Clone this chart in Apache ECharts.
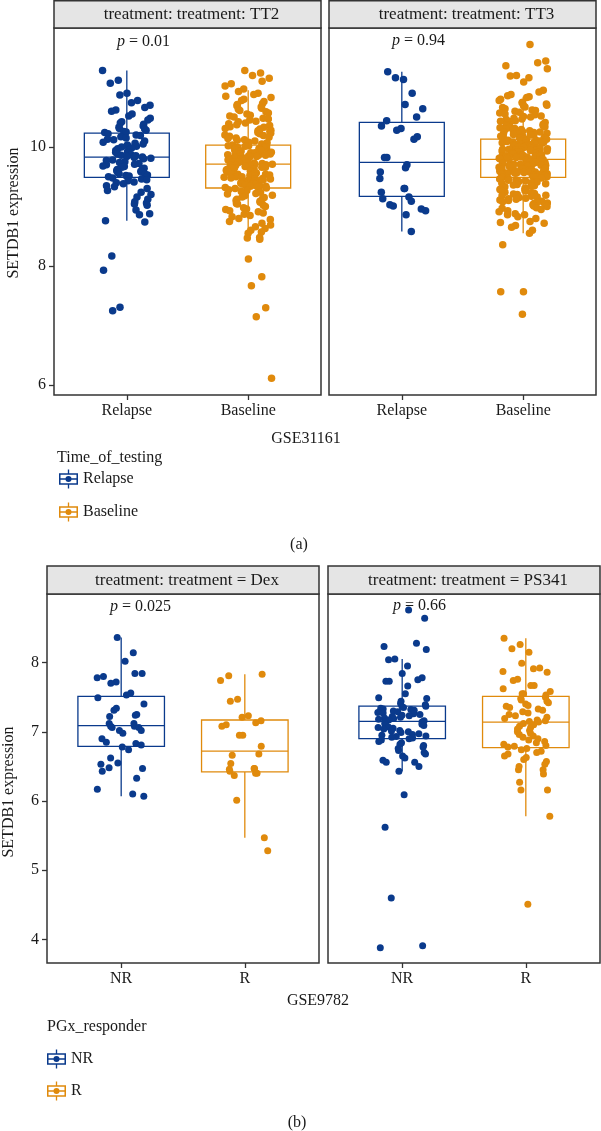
<!DOCTYPE html>
<html><head><meta charset="utf-8">
<script src="https://cdn.jsdelivr.net/npm/echarts@6/dist/echarts.min.js"></script>
<style>html,body{margin:0;padding:0;background:#fff}#c{width:601px;height:1131px}</style>
</head><body><div id="c"></div>
<script>
// ---------------- DATA ----------------
const catsA = ['Relapse', 'Baseline'];
const catsB = ['NR', 'R'];
const stripsA = ['treatment: treatment: TT2', 'treatment: treatment: TT3'];
const stripsB = ['treatment: treatment = Dex', 'treatment: treatment = PS341'];
const pA = ['0.01', '0.94'];
const pB = ['0.025', '0.66'];
const ticksA = [6, 8, 10];
const ticksB = [4, 5, 6, 7, 8];

// box stats: [lower whisker, Q1, median, Q3, upper whisker]
const boxTT2Relapse = [8.76, 9.49, 9.83, 10.23, 11.28];
const boxTT2Baseline = [8.55, 9.31, 9.71, 10.03, 10.95];
const boxTT3Relapse = [8.58, 9.17, 9.74, 10.41, 11.26];
const boxTT3Baseline = [8.55, 9.49, 9.79, 10.13, 10.84];
const boxDexNR = [6.07, 6.79, 7.09, 7.51, 8.36];
const boxDexR = [5.47, 6.42, 6.72, 7.17, 7.83];
const boxPSNR = [6.43, 6.90, 7.15, 7.37, 8.05];
const boxPSR = [5.78, 6.77, 7.14, 7.51, 8.35];

const ptsTT2Relapse = [11.28,11.12,11.07,10.90,10.87,10.78,10.74,10.70,10.66,10.62,10.60,10.55,10.52,10.48,10.45,10.42,10.40,10.38,10.35,10.33,10.31,10.30,10.28,10.26,10.25,10.24,
10.22,10.20,10.19,10.17,10.15,10.13,10.12,10.10,10.08,10.06,10.05,10.03,10.01,10.00,9.98,9.97,9.95,9.94,9.92,9.91,9.90,9.88,9.87,9.86,9.85,9.84,9.83,
9.82,9.81,9.80,9.78,9.77,9.75,9.74,9.72,9.71,9.70,9.68,9.67,9.66,9.64,9.63,9.62,9.60,9.59,9.58,9.57,9.55,9.54,9.53,9.52,9.51,9.50,
9.48,9.46,9.45,9.43,9.41,9.40,9.38,9.35,9.33,9.30,9.27,9.24,9.20,9.16,9.12,9.08,9.06,9.04,9.02,8.94,8.88,8.86,8.76,8.74,8.17,7.93,7.31,7.25];

const ptsTT2Baseline = [11.28,11.24,11.20,11.15,11.10,11.06,11.02,10.97,10.93,10.90,10.88,10.85,10.83,10.80,10.78,10.76,10.73,10.71,10.69,10.67,10.65,10.63,10.61,10.59,10.57,10.55,10.53,10.52,10.50,10.48,10.47,10.45,10.43,10.42,10.40,10.39,10.37,10.36,10.34,10.33,10.31,10.30,10.28,10.27,10.26,10.24,10.23,10.22,10.20,10.19,10.18,10.16,10.15,10.14,10.12,10.11,10.10,10.08,10.07,10.05,
10.03,10.02,10.02,10.01,10.00,9.99,9.99,9.98,9.97,9.97,9.96,9.95,9.95,9.94,9.93,9.93,9.92,9.91,9.90,9.90,9.89,9.88,9.88,9.87,9.86,9.86,9.85,9.84,9.84,9.83,9.82,9.81,9.81,9.80,9.79,9.79,9.78,9.77,9.77,9.76,9.75,9.75,9.74,9.73,9.73,9.72,9.71,9.71,
9.70,9.69,9.69,9.68,9.67,9.66,9.66,9.65,9.64,9.63,9.62,9.62,9.61,9.60,9.59,9.58,9.58,9.57,9.56,9.55,9.54,9.54,9.53,9.52,9.51,9.50,9.50,9.49,9.48,9.47,9.46,9.46,9.45,9.44,9.43,9.42,9.42,9.41,9.40,9.39,9.38,9.38,9.37,9.36,9.35,9.34,9.34,9.33,9.32,9.31,
9.30,9.28,9.27,9.25,9.24,9.22,9.21,9.19,9.18,9.16,9.15,9.13,9.12,9.10,9.09,9.07,9.05,9.04,9.02,9.00,8.98,8.96,8.95,8.93,8.91,8.89,8.87,8.85,8.83,8.80,8.78,8.75,8.72,8.69,8.66,8.63,8.60,8.57,8.55,8.48,8.47,8.45,8.12,7.82,7.67,7.30,7.15,6.12];

const ptsTT3Relapse = [11.26,11.13,11.16,10.90,10.71,10.64,10.50,10.44,10.35,10.31,10.28,10.17,10.13,9.82,9.82,9.70,9.65,9.58,9.47,9.30,9.30,9.24,9.13,9.16,9.09,9.03,9.01,8.96,8.93,8.86,8.58];

const ptsTT3Baseline = [11.72,11.44,11.41,11.36,11.31,11.20,11.19,11.16,11.09,
10.95,10.92,10.88,10.86,10.84,10.83,10.80,10.78,10.75,10.74,10.72,10.70,10.69,10.67,10.66,10.64,10.62,10.61,10.60,10.58,10.57,10.55,10.54,10.52,10.51,10.50,10.48,10.47,10.46,10.44,10.43,10.42,10.41,10.40,10.38,10.37,10.36,10.35,10.34,10.33,10.32,10.31,10.30,10.29,10.28,10.27,10.26,10.25,10.24,10.24,10.23,10.22,10.21,10.20,10.20,10.19,10.18,10.17,10.17,10.16,10.15,10.15,10.14,10.14,10.13,10.13,
10.12,10.12,10.11,10.11,10.10,10.10,10.09,10.09,10.08,10.08,10.07,10.07,10.06,10.06,10.05,10.05,10.04,10.04,10.03,10.03,10.02,10.02,10.01,10.01,10.00,10.00,9.99,9.99,9.98,9.98,9.97,9.97,9.96,9.96,9.95,9.95,9.94,9.94,9.93,9.93,9.92,9.92,9.91,9.91,9.90,9.90,9.89,9.89,9.88,9.88,9.87,9.87,9.86,9.86,9.85,9.85,9.84,9.84,9.83,9.83,9.82,9.82,9.81,9.81,9.80,9.80,9.79,9.79,
9.79,9.78,9.78,9.77,9.77,9.76,9.76,9.75,9.75,9.74,9.74,9.73,9.73,9.72,9.72,9.71,9.71,9.70,9.70,9.69,9.69,9.68,9.68,9.67,9.67,9.66,9.66,9.65,9.65,9.64,9.64,9.63,9.63,9.62,9.62,9.61,9.61,9.60,9.60,9.59,9.59,9.58,9.58,9.57,9.57,9.56,9.56,9.55,9.55,9.54,9.54,9.53,9.53,9.52,9.52,9.51,9.51,9.50,9.50,9.49,9.49,
9.48,9.47,9.46,9.45,9.44,9.43,9.42,9.41,9.40,9.39,9.38,9.37,9.36,9.35,9.34,9.33,9.32,9.31,9.30,9.29,9.28,9.27,9.26,9.25,9.24,9.23,9.22,9.21,9.20,9.19,9.18,9.17,9.16,9.15,9.14,9.13,9.12,9.11,9.10,9.09,9.08,9.07,9.06,9.05,9.04,9.03,9.02,9.01,9.00,8.98,8.97,8.95,8.93,8.91,8.88,8.86,8.86,8.83,8.80,8.75,8.73,8.72,8.68,8.65,8.60,8.55,8.36,7.57,7.57,7.19];

const ptsDexNR = [8.36,8.14,8.02,7.84,7.84,7.80,7.78,7.72,7.70,7.56,7.53,7.49,7.40,7.34,7.31,7.25,7.24,7.22,7.12,7.12,7.08,7.08,7.06,7.06,7.02,7.02,6.98,6.90,6.85,6.83,6.81,6.78,6.74,6.62,6.55,6.53,6.48,6.47,6.43,6.33,6.17,6.10,6.07];
const ptsDexR = [7.83,7.81,7.74,7.47,7.44,7.23,7.21,7.16,7.13,7.10,7.08,6.95,6.95,6.79,6.68,6.66,6.54,6.47,6.47,6.46,6.43,6.40,6.40,6.37,6.01,5.47,5.28];
const ptsPSNR = [8.76,8.64,8.28,8.23,8.19,8.05,8.04,7.95,7.84,7.78,7.75,7.73,7.73,7.66,7.55,7.49,7.48,7.44,7.41,7.39,
7.37,7.36,7.35,7.34,7.33,7.32,7.31,7.30,7.29,7.28,7.27,7.26,7.25,7.24,7.23,7.22,7.21,7.20,7.19,7.18,7.17,7.16,
7.15,7.14,7.12,7.11,7.10,7.09,7.07,7.06,7.05,7.04,7.02,7.01,7.00,6.99,6.97,6.96,6.95,6.94,6.93,6.92,6.91,
6.90,6.88,6.86,6.84,6.82,6.80,6.78,6.76,6.73,6.70,6.68,6.65,6.62,6.59,6.56,6.56,6.50,6.43,6.09,5.62,4.60,3.91,3.88];
const ptsPSR = [8.35,8.26,8.20,8.15,7.99,7.92,7.91,7.87,7.86,7.76,7.74,7.67,7.67,7.62,7.58,7.55,7.55,7.53,
7.50,7.48,7.46,7.44,7.42,7.40,7.38,7.37,7.35,7.33,7.31,7.29,7.27,7.25,7.23,7.21,7.19,7.17,7.16,7.15,
7.14,7.12,7.10,7.08,7.06,7.04,7.02,7.00,6.98,6.96,6.94,6.92,6.90,6.88,6.86,6.84,6.82,6.80,6.79,6.78,
6.76,6.74,6.72,6.70,6.68,6.65,6.63,6.60,6.57,6.53,6.50,6.45,6.45,6.39,6.27,6.16,6.16,5.78,4.51];

// ---------------- STYLE / LAYOUT ----------------
const FONT = '"Liberation Serif","DejaVu Serif",serif';
const TXT = '#1a1a1a';
const BLUE = '#0A3A8C', ORANGE = '#E08A0C';
const LINE = '#333333';
const RANGE_A = [5.837, 11.995], RANGE_B = [3.66, 8.99];
const GRIDS = [
  {left: 54, top: 28, width: 267, height: 367},
  {left: 329, top: 28, width: 267, height: 367},
  {left: 47, top: 594, width: 272, height: 369},
  {left: 328, top: 594, width: 272, height: 369}
];
const ICON = 'path://M0 4H20V16H0Z M1.6 5.6V14.4H18.4V5.6Z M1.6 9.3H18.4V10.7H1.6Z M9.3 0H10.7V4H9.3Z M9.3 16H10.7V20H9.3Z M6.8 10A3.2 3.2 0 1 1 13.2 10A3.2 3.2 0 1 1 6.8 10Z';

// deterministic horizontal jitter (quadratic Weyl sequence), width +-0.2 category units
function jit(i, off) { return (((i * i * 0.7548776662 + i * 0.5698402910 + off) % 1) - 0.5) * 0.4; }

function boxRender(color) {
  return function (params, api) {
    const x = api.value(0);
    const lo = api.coord([x, api.value(1)]), q1 = api.coord([x, api.value(2)]),
          md = api.coord([x, api.value(3)]), q3 = api.coord([x, api.value(4)]),
          hi = api.coord([x, api.value(5)]);
    const hw = api.size([0.7, 0])[0] / 2;
    const st = {stroke: color, lineWidth: 1.3};
    return {type: 'group', children: [
      {type: 'line', shape: {x1: hi[0], y1: hi[1], x2: q3[0], y2: q3[1]}, style: st},
      {type: 'line', shape: {x1: q1[0], y1: q1[1], x2: lo[0], y2: lo[1]}, style: st},
      {type: 'rect', shape: {x: q3[0] - hw, y: q3[1], width: 2 * hw, height: q1[1] - q3[1]}, style: {stroke: color, lineWidth: 1.3, fill: '#fff'}},
      {type: 'line', shape: {x1: md[0] - hw, y1: md[1], x2: md[0] + hw, y2: md[1]}, style: st}
    ]};
  };
}

const panels = [
  {cats: catsA, boxes: [boxTT2Relapse, boxTT2Baseline], pts: [ptsTT2Relapse, ptsTT2Baseline], range: RANGE_A, ticks: ticksA, showY: true, size: 7.5},
  {cats: catsA, boxes: [boxTT3Relapse, boxTT3Baseline], pts: [ptsTT3Relapse, ptsTT3Baseline], range: RANGE_A, ticks: ticksA, showY: false, size: 7.5},
  {cats: catsB, boxes: [boxDexNR, boxDexR], pts: [ptsDexNR, ptsDexR], range: RANGE_B, ticks: ticksB, showY: true, size: 7},
  {cats: catsB, boxes: [boxPSNR, boxPSR], pts: [ptsPSNR, ptsPSR], range: RANGE_B, ticks: ticksB, showY: false, size: 7}
];
const colors = [BLUE, ORANGE];

const grid = [], xAxis = [], yAxis = [], series = [];
panels.forEach((p, gi) => {
  grid.push(Object.assign({show: true, borderColor: LINE, borderWidth: 1.5, backgroundColor: 'transparent', containLabel: false}, GRIDS[gi]));
  xAxis.push({
    type: 'value', gridIndex: gi, min: 0.4, max: 2.6,
    axisLine: {show: false}, splitLine: {show: false},
    axisTick: {show: true, customValues: [1, 2], length: 5, lineStyle: {color: LINE, width: 1.3}},
    axisLabel: {show: true, customValues: [1, 2], margin: 8, formatter: v => p.cats[Math.round(v) - 1],
      fontFamily: FONT, fontSize: 16, color: TXT}
  });
  yAxis.push({
    type: 'value', gridIndex: gi, min: p.range[0], max: p.range[1],
    axisLine: {show: false}, splitLine: {show: false},
    axisTick: {show: p.showY, customValues: p.ticks, length: 5, lineStyle: {color: LINE, width: 1.3}},
    axisLabel: {show: p.showY, customValues: p.ticks, margin: 8, fontFamily: FONT, fontSize: 16, color: TXT}
  });
  [0, 1].forEach(k => {
    series.push({
      type: 'custom', name: p.cats[k], xAxisIndex: gi, yAxisIndex: gi, z: 2,
      renderItem: boxRender(colors[k]),
      encode: {x: 0, y: [1, 2, 3, 4, 5]},
      data: [[k + 1].concat(p.boxes[k])],
      itemStyle: {color: colors[k]}, silent: true
    });
  });
  [0, 1].forEach(k => {
    series.push({
      type: 'scatter', name: p.cats[k], xAxisIndex: gi, yAxisIndex: gi, z: 3,
      symbol: 'circle', symbolSize: p.size,
      itemStyle: {color: colors[k], opacity: 1},
      data: p.pts[k].map((v, i) => [k + 1 + jit(i, gi * 0.21 + k * 0.43), v]),
      silent: true
    });
  });
});

function txt(x, y, text, extra) {
  return Object.assign({type: 'text', x: x, y: y, silent: true,
    style: Object.assign({text: text, fill: TXT, fontFamily: FONT, fontSize: 16,
      align: 'center', verticalAlign: 'middle', textAlign: 'center', textVerticalAlign: 'middle'}, (extra && extra.style) || {})},
    (extra && extra.el) || {});
}

const graphic = [];
// strips
[[GRIDS[0], 0.75, stripsA[0]], [GRIDS[1], 0.75, stripsA[1]], [GRIDS[2], 566, stripsB[0]], [GRIDS[3], 566, stripsB[1]]].forEach(([g, top, label]) => {
  graphic.push({type: 'rect', silent: true, shape: {x: g.left, y: top, width: g.width, height: g.top - top},
    style: {fill: '#E5E5E5', stroke: LINE, lineWidth: 1.5}});
  graphic.push(txt(g.left + g.width / 2 + 4, (top + g.top) / 2 + 0.5, label, {style: {fontSize: 17}}));
});
// p labels
function pLabel(x, y, val) {
  return {type: 'text', x: x, y: y, silent: true,
    style: {text: '{i|p} = ' + val, fill: TXT, fontFamily: FONT, fontSize: 16,
      align: 'left', verticalAlign: 'middle', textAlign: 'left', textVerticalAlign: 'middle',
      rich: {i: {fontStyle: 'italic', fontFamily: FONT, fontSize: 16, fill: TXT}}}};
}
graphic.push(pLabel(117, 42, pA[0]));
graphic.push(pLabel(392, 41, pA[1]));
graphic.push(pLabel(110, 607, pB[0]));
graphic.push(pLabel(393, 606, pB[1]));
// y titles
graphic.push(txt(13.5, 213, 'SETDB1 expression', {el: {rotation: Math.PI / 2}}));
graphic.push(txt(9, 792, 'SETDB1 expression', {el: {rotation: Math.PI / 2}}));
// x titles
graphic.push(txt(306, 439, 'GSE31161'));
graphic.push(txt(318, 1001, 'GSE9782'));
// legend titles
graphic.push(txt(57, 458, 'Time_of_testing', {style: {align: 'left', textAlign: 'left'}}));
graphic.push(txt(47, 1027, 'PGx_responder', {style: {align: 'left', textAlign: 'left'}}));
// figure labels
graphic.push(txt(299, 545, '(a)'));
graphic.push(txt(297, 1123, '(b)'));

const legendText = {fontFamily: FONT, fontSize: 16, color: TXT};
const option = {
  animation: false,
  backgroundColor: '#fff',
  grid, xAxis, yAxis, series, graphic,
  legend: [
    {orient: 'vertical', left: 59, top: 469.5, padding: 0, itemWidth: 19, itemHeight: 19, itemGap: 14, selectedMode: false,
      textStyle: legendText,
      data: [{name: catsA[0], icon: ICON, itemStyle: {color: BLUE, borderWidth: 0}},
             {name: catsA[1], icon: ICON, itemStyle: {color: ORANGE, borderWidth: 0}}]},
    {orient: 'vertical', left: 47, top: 1049.5, padding: 0, itemWidth: 19, itemHeight: 19, itemGap: 13, selectedMode: false,
      textStyle: legendText,
      data: [{name: catsB[0], icon: ICON, itemStyle: {color: BLUE, borderWidth: 0}},
             {name: catsB[1], icon: ICON, itemStyle: {color: ORANGE, borderWidth: 0}}]}
  ]
};
const chart = echarts.init(document.getElementById('c'), null, {renderer: 'canvas'});
chart.setOption(option);
</script>
</body></html>
